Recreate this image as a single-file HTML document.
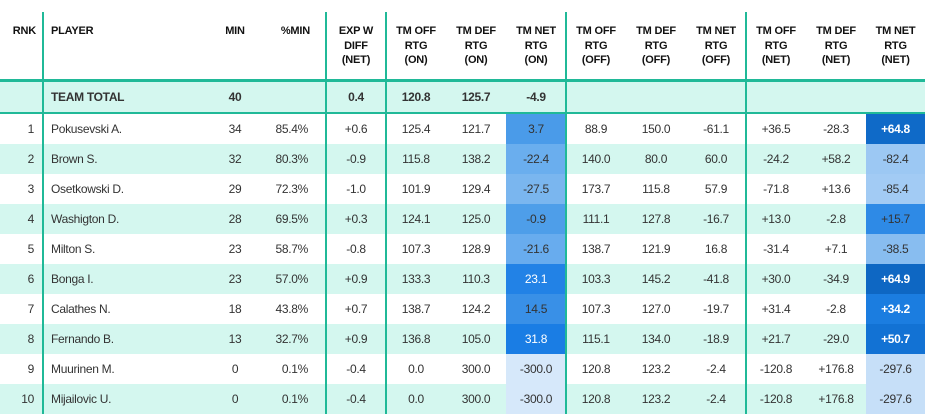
<!DOCTYPE html>
<html><head><meta charset="utf-8"><style>
*{margin:0;padding:0;box-sizing:border-box}
body{width:925px;height:415px;background:#fff;overflow:hidden;position:relative;font-family:"Liberation Sans",sans-serif;color:#333}
.row{position:absolute;left:0;width:925px;height:30px;font-size:12px;letter-spacing:-0.3px}
.row div{position:absolute;top:0;height:30px;line-height:30px;text-align:center}
.alt{background:#d4f7ef}
.hd{position:absolute;top:22px;font-size:11px;font-weight:bold;line-height:14.5px;text-align:center;color:#111;letter-spacing:-0.2px}
.vl{position:absolute;top:12px;width:2px;height:402px;background:#20b998}
.hl{position:absolute;left:0;width:925px;background:#20b998}
.b{font-weight:bold}
.w{color:#fff}
</style></head><body>
<div class="hd" style="left:0;width:36px;text-align:right;top:24px">RNK</div>
<div class="hd" style="left:51px;width:120px;text-align:left;top:24px">PLAYER</div>
<div class="hd" style="left:200px;width:70px;top:24px">MIN</div>
<div class="hd" style="left:270px;width:40px;text-align:right;top:24px">%MIN</div>
<div class="hd" style="left:326px;width:60px;top:24px">EXP W<br>DIFF<br>(NET)</div>
<div class="hd" style="left:386px;width:60px;top:24px">TM OFF<br>RTG<br>(ON)</div>
<div class="hd" style="left:446px;width:60px;top:24px">TM DEF<br>RTG<br>(ON)</div>
<div class="hd" style="left:506px;width:60px;top:24px">TM NET<br>RTG<br>(ON)</div>
<div class="hd" style="left:566px;width:60px;top:24px">TM OFF<br>RTG<br>(OFF)</div>
<div class="hd" style="left:626px;width:60px;top:24px">TM DEF<br>RTG<br>(OFF)</div>
<div class="hd" style="left:686px;width:60px;top:24px">TM NET<br>RTG<br>(OFF)</div>
<div class="hd" style="left:746px;width:60px;top:24px">TM OFF<br>RTG<br>(NET)</div>
<div class="hd" style="left:806px;width:60px;top:24px">TM DEF<br>RTG<br>(NET)</div>
<div class="hd" style="left:866px;width:59px;top:24px">TM NET<br>RTG<br>(NET)</div>

<div class="row alt b" style="top:82px">
<div style="left:51px;text-align:left">TEAM TOTAL</div>
<div style="left:200px;width:70px">40</div>
<div style="left:326px;width:60px">0.4</div>
<div style="left:386px;width:60px">120.8</div>
<div style="left:446px;width:60px">125.7</div>
<div style="left:506px;width:60px">-4.9</div>
</div>

<div id="rows"></div>
<script>
var d=[
[1,"Pokusevski A.",34,"85.4%","+0.6","125.4","121.7","3.7","#4a9be9","","88.9","150.0","-61.1","+36.5","-28.3","+64.8","#0f6ac8",1],
[2,"Brown S.",32,"80.3%","-0.9","115.8","138.2","-22.4","#6aaeee","","140.0","80.0","60.0","-24.2","+58.2","-82.4","#9cc8f3",0],
[3,"Osetkowski D.",29,"72.3%","-1.0","101.9","129.4","-27.5","#7ab6ef","","173.7","115.8","57.9","-71.8","+13.6","-85.4","#a2cbf4",0],
[4,"Washigton D.",28,"69.5%","+0.3","124.1","125.0","-0.9","#4e9ee9","","111.1","127.8","-16.7","+13.0","-2.8","+15.7","#2e8ae6",0],
[5,"Milton S.",23,"58.7%","-0.8","107.3","128.9","-21.6","#68acee","","138.7","121.9","16.8","-31.4","+7.1","-38.5","#88bdf0",0],
[6,"Bonga I.",23,"57.0%","+0.9","133.3","110.3","23.1","#2282e6","w","103.3","145.2","-41.8","+30.0","-34.9","+64.9","#0e67c3",1],
[7,"Calathes N.",18,"43.8%","+0.7","138.7","124.2","14.5","#3990e7","","107.3","127.0","-19.7","+31.4","-2.8","+34.2","#1b7de0",1],
[8,"Fernando B.",13,"32.7%","+0.9","136.8","105.0","31.8","#1a7de4","w","115.1","134.0","-18.9","+21.7","-29.0","+50.7","#1272d4",1],
[9,"Muurinen M.",0,"0.1%","-0.4","0.0","300.0","-300.0","#d6e8fa","","120.8","123.2","-2.4","-120.8","+176.8","-297.6","#c6dff8",0],
[10,"Mijailovic U.",0,"0.1%","-0.4","0.0","300.0","-300.0","#d6e8fa","","120.8","123.2","-2.4","-120.8","+176.8","-297.6","#c6dff8",0]];
var h="";
d.forEach(function(r,i){
var t=114+30*i;
h+='<div class="row'+(i%2?' alt':'')+'" style="top:'+t+'px">'+
'<div style="left:0;width:34px;text-align:right">'+r[0]+'</div>'+
'<div style="left:51px;text-align:left">'+r[1]+'</div>'+
'<div style="left:200px;width:70px">'+r[2]+'</div>'+
'<div style="left:260px;width:48px;text-align:right">'+r[3]+'</div>'+
'<div style="left:326px;width:60px">'+r[4]+'</div>'+
'<div style="left:386px;width:60px">'+r[5]+'</div>'+
'<div style="left:446px;width:60px">'+r[6]+'</div>'+
'<div class="'+r[9]+'" style="left:506px;width:60px;background:'+r[8]+'">'+r[7]+'</div>'+
'<div style="left:566px;width:60px">'+r[10]+'</div>'+
'<div style="left:626px;width:60px">'+r[11]+'</div>'+
'<div style="left:686px;width:60px">'+r[12]+'</div>'+
'<div style="left:746px;width:60px">'+r[13]+'</div>'+
'<div style="left:806px;width:60px">'+r[14]+'</div>'+
'<div class="'+(r[17]?'w b':'')+'" style="left:866px;width:59px;background:'+r[16]+'">'+r[15]+'</div>'+
'</div>';});
document.getElementById("rows").innerHTML=h;
</script>
<div class="hl" style="top:79px;height:3px"></div>
<div class="hl" style="top:112px;height:2px"></div>
<div class="vl" style="left:42px"></div>
<div class="vl" style="left:325px"></div>
<div class="vl" style="left:385px"></div>
<div class="vl" style="left:565px"></div>
<div class="vl" style="left:745px"></div>
</body></html>
